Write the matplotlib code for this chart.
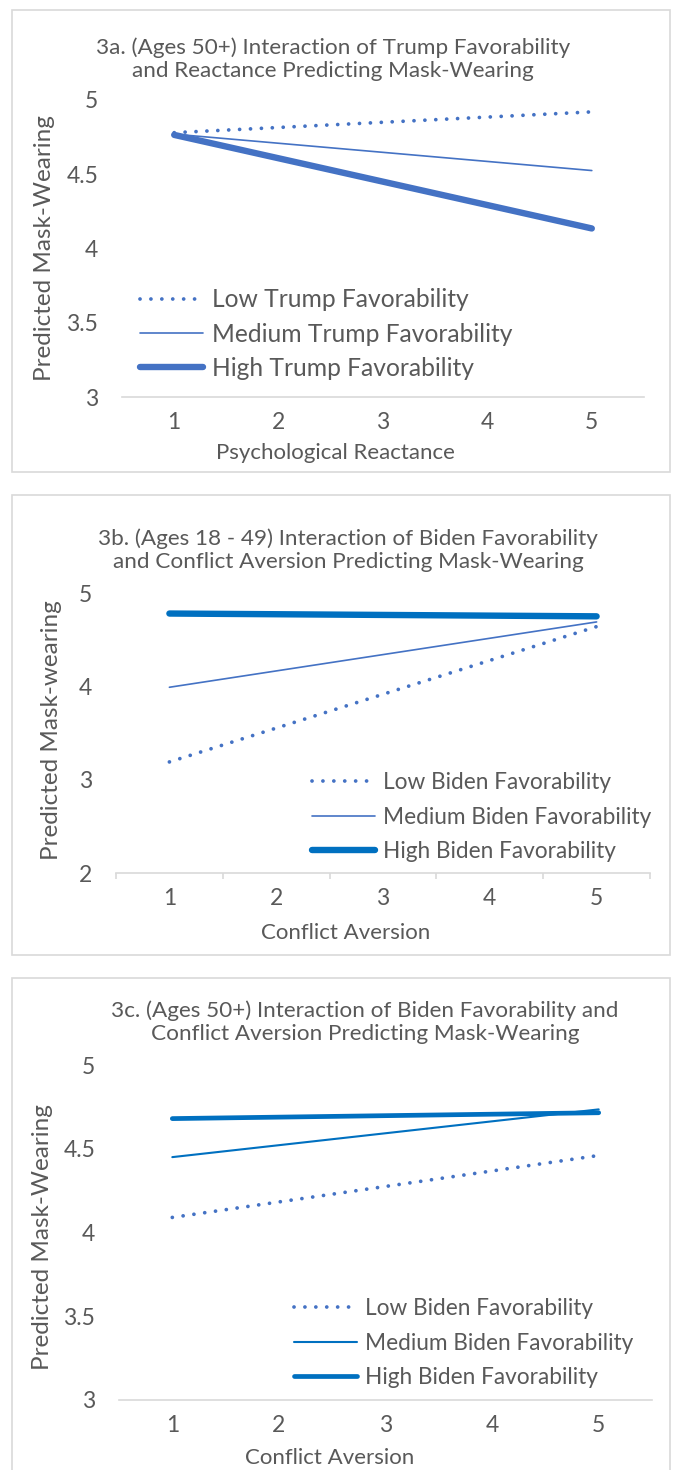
import matplotlib
matplotlib.use("Agg")
import matplotlib.pyplot as plt
from matplotlib.patches import Rectangle

# Simple slopes (values at x = 1 and x = 5)
x_pts = [1, 5]
x_ticks = [1, 2, 3, 4, 5]

# 3a: Ages 50+, Trump favorability x reactance
a_low = [4.78, 4.92]
a_med = [4.77, 4.525]
a_high = [4.765, 4.135]

# 3b: Ages 18-49, Biden favorability x conflict aversion
b_low = [3.19, 4.64]
b_med = [3.99, 4.69]
b_high = [4.78, 4.75]

# 3c: Ages 50+, Biden favorability x conflict aversion
c_low = [4.09, 4.46]
c_med = [4.45, 4.735]
c_high = [4.68, 4.715]

W, H = 674, 1470
BLUE = "#4472C4"
DBLUE = "#0070C0"
TXT = "#595959"
GRID = "#D9D9D9"
plt.rcParams["font.family"] = ["Lato", "DejaVu Sans"]

fig = plt.figure(figsize=(W / 100, H / 100), dpi=100)


def fx(x):
    return x / W


def fy(y):
    return 1 - y / H


def make_axes(left, right, top, bottom):
    return fig.add_axes([fx(left), fy(bottom), fx(right - left), (bottom - top) / H])


def style(ax, ylim, yticks, ticklabels_y, boundary_ticks=False):
    ax.set_xlim(0.5, 5.5)
    ax.set_ylim(*ylim)
    ax.set_yticks(yticks)
    ax.set_yticklabels(ticklabels_y)
    ax.set_xticks(x_ticks)
    ax.set_xticklabels([str(t) for t in x_ticks])
    for s in ["top", "right", "left"]:
        ax.spines[s].set_visible(False)
    ax.spines["bottom"].set_color(GRID)
    ax.spines["bottom"].set_linewidth(1.2)
    ax.tick_params(axis="x", length=0, pad=11, labelsize=16.5, labelcolor=TXT)
    ax.tick_params(axis="y", length=0, pad=17, labelsize=16.5, labelcolor=TXT)
    if boundary_ticks:
        ax.set_xticks([0.5, 1.5, 2.5, 3.5, 4.5, 5.5], minor=True)
        ax.tick_params(axis="x", which="minor", length=4, color=GRID, width=1.2)


def draw(ax, low, med, high, labels, c_low, c_med, c_high, w_med, w_high,
         leg_x, leg_y, leg_fs, leg_sp):
    l1, = ax.plot(x_pts, low, color=c_low, lw=2.7, linestyle=(0, (0.01, 2.9)),
                  dash_capstyle="round", solid_capstyle="round")
    l2, = ax.plot(x_pts, med, color=c_med, lw=w_med, solid_capstyle="round")
    l3, = ax.plot(x_pts, high, color=c_high, lw=w_high, solid_capstyle="round")
    ax.legend([l1, l2, l3], labels, loc="center left",
              bbox_to_anchor=(fx(leg_x), fy(leg_y)), bbox_transform=fig.transFigure,
              frameon=False, fontsize=leg_fs, labelcolor=TXT,
              handlelength=63 / (leg_fs * 100 / 72), handletextpad=0.35,
              labelspacing=leg_sp, borderpad=0, borderaxespad=0)


def frame(top, bottom):
    fig.add_artist(Rectangle((fx(12), fy(bottom)), fx(658), (bottom - top) / H,
                             transform=fig.transFigure, fill=False,
                             edgecolor=GRID, lw=1.2))


# ---- Panel 3a ----
frame(10, 472)
ax1 = make_axes(122, 644, 100, 397)
style(ax1, (3, 5), [3, 3.5, 4, 4.5, 5], ["3", "3.5", "4", "4.5", "5"])
draw(ax1, a_low, a_med, a_high,
     ["Low Trump Favorability", "Medium Trump Favorability", "High Trump Favorability"],
     BLUE, BLUE, BLUE, 1.2, 4.6, 140, 334, 17.7, 0.45)
fig.text(fx(333), fy(59), "3a. (Ages 50+) Interaction of Trump Favorability\nand Reactance Predicting Mask-Wearing",
         ha="center", va="center", fontsize=16.2, color=TXT, linespacing=1.2)
fig.text(fx(45), fy(248), "Predicted Mask-Wearing", rotation=90, ha="center", va="center",
         fontsize=17.5, color=TXT)
fig.text(fx(335), fy(453), "Psychological Reactance", ha="center", va="center",
         fontsize=16, color=TXT)

# ---- Panel 3b ----
frame(495, 955)
ax2 = make_axes(116, 650, 593, 873)
style(ax2, (2, 5), [2, 3, 4, 5], ["2", "3", "4", "5"], boundary_ticks=True)
draw(ax2, b_low, b_med, b_high,
     ["Low Biden Favorability", "Medium Biden Favorability", "High Biden Favorability"],
     BLUE, BLUE, DBLUE, 1.2, 4.6, 312, 817, 16.3, 0.6)
fig.text(fx(348), fy(550), "3b. (Ages 18 - 49) Interaction of Biden Favorability\nand Conflict Aversion Predicting Mask-Wearing",
         ha="center", va="center", fontsize=16.2, color=TXT, linespacing=1.2)
fig.text(fx(52), fy(730), "Predicted Mask-wearing", rotation=90, ha="center", va="center",
         fontsize=17.5, color=TXT)
fig.text(fx(346), fy(933), "Conflict Aversion", ha="center", va="center",
         fontsize=16, color=TXT)

# ---- Panel 3c ----
frame(978, 1480)
ax3 = make_axes(119, 652, 1065, 1400)
style(ax3, (3, 5), [3, 3.5, 4, 4.5, 5], ["3", "3.5", "4", "4.5", "5"])
draw(ax3, c_low, c_med, c_high,
     ["Low Biden Favorability", "Medium Biden Favorability", "High Biden Favorability"],
     BLUE, DBLUE, DBLUE, 1.5, 3.4, 294, 1343, 16.3, 0.6)
fig.text(fx(365), fy(1022), "3c. (Ages 50+) Interaction of Biden Favorability and\nConflict Aversion Predicting Mask-Wearing",
         ha="center", va="center", fontsize=16.2, color=TXT, linespacing=1.2)
fig.text(fx(43), fy(1237), "Predicted Mask-Wearing", rotation=90, ha="center", va="center",
         fontsize=17.5, color=TXT)
fig.text(fx(330), fy(1458), "Conflict Aversion", ha="center", va="center",
         fontsize=16, color=TXT)

fig.savefig("out.png", dpi=100, facecolor="white")
